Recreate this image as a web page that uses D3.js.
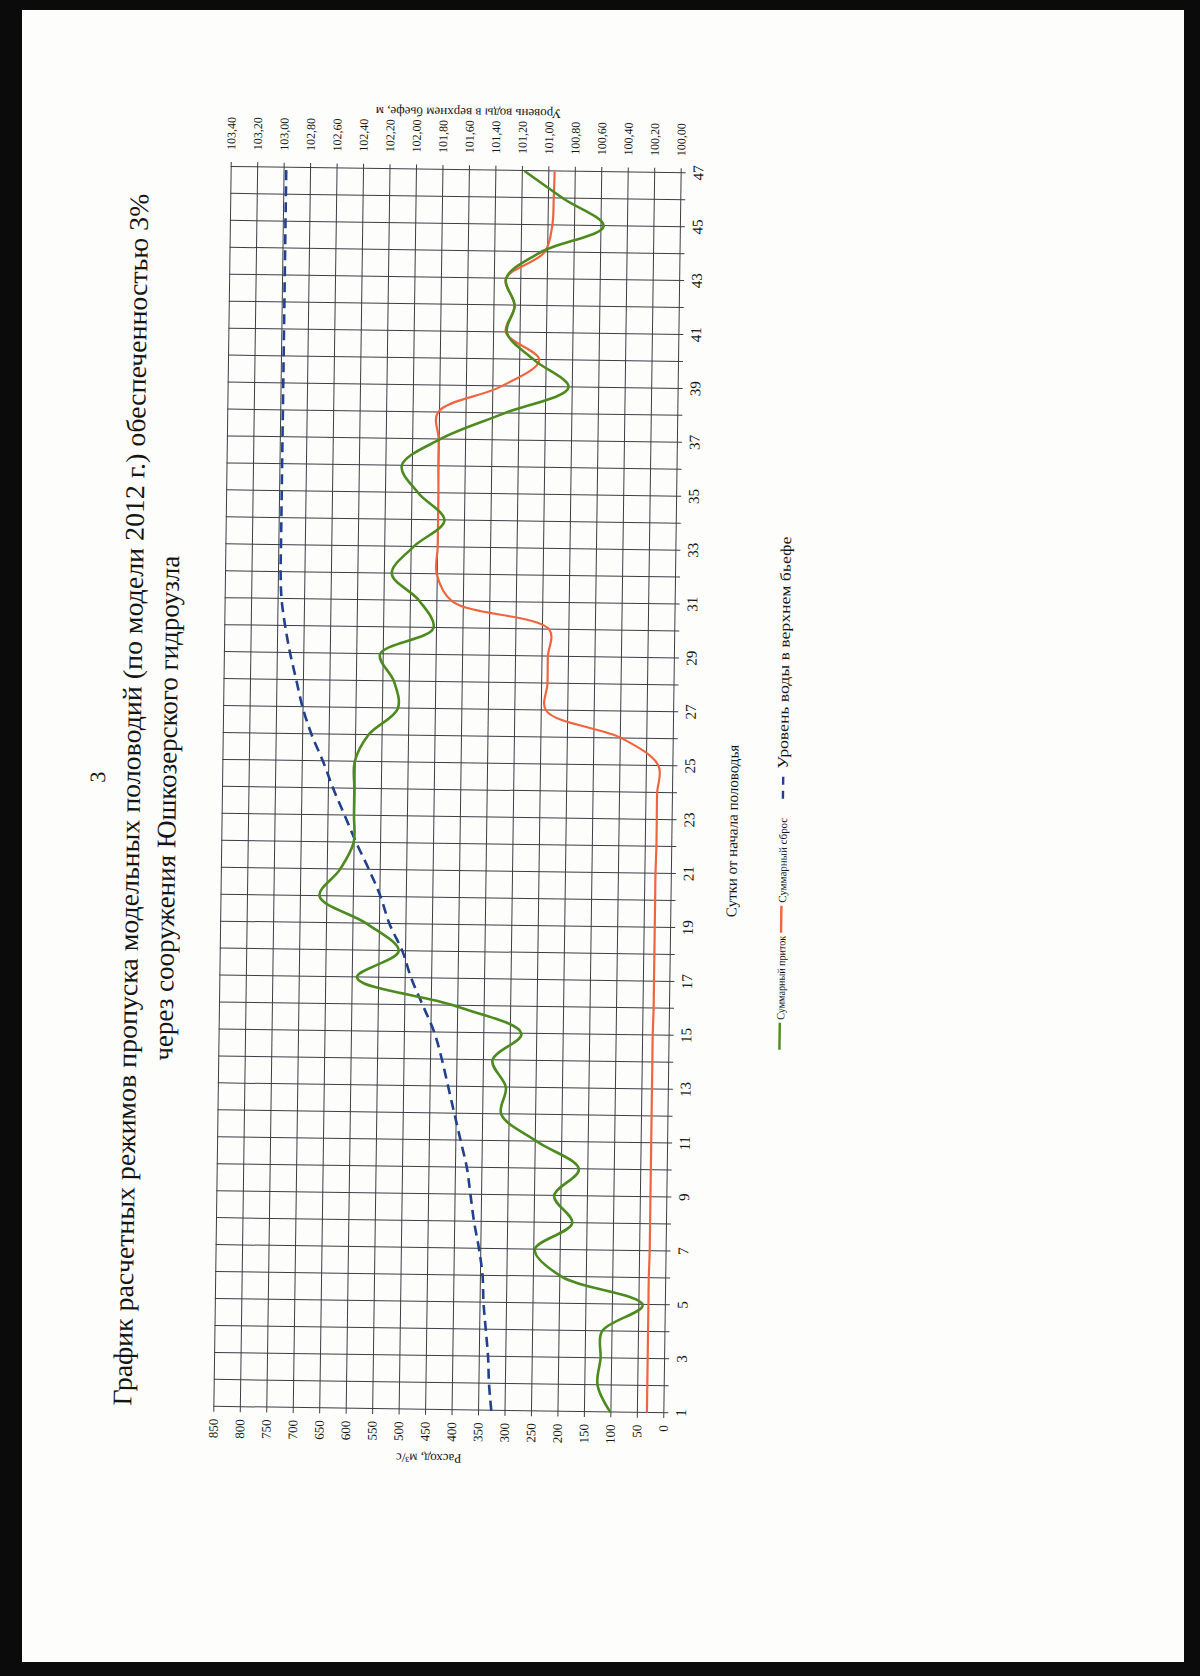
<!DOCTYPE html>
<html>
<head>
<meta charset="utf-8">
<script src="https://cdn.jsdelivr.net/npm/d3@7"></script>
<style>
  body { margin: 0; background: #fff; }
  text { font-family: "Liberation Serif", "Times New Roman", serif; fill: #151515; }
</style>
</head>
<body>
<svg id="page"></svg>
<script>
// сутки от начала половодья
var days = [1,2,3,4,5,6,7,8,9,10,11,12,13,14,15,16,17,18,19,20,21,22,23,24,
            25,26,27,28,29,30,31,32,33,34,35,36,37,38,39,40,41,42,43,44,45,46,47];
var dayTicks = [1,3,5,7,9,11,13,15,17,19,21,23,25,27,29,31,33,35,37,39,41,43,45,47];

// суммарный приток, м3/с
var inflow = [100,125,120,118,42,195,247,177,212,166,245,314,306,332,278,405,590,512,573,663,
              625,600,600,600,600,575,520,528,555,455,482,535,495,437,487,519,448,327,206,272,
              324,310,327,262,144,221,295];

// суммарный сброс, м3/с
var discharge = [31,31,31,31,31,31,30,30,30,30,30,30,30,30,30,29,29,29,29,29,
                 29,28,28,28,26,95,240,238,238,236,420,450,449,449,449,450,450,452,333,262,
                 326,310,327,255,241,239,238];

// уровень воды в верхнем бьефе, м
var level = [101.30,101.32,101.33,101.35,101.37,101.38,101.41,101.45,101.48,101.51,
             101.56,101.61,101.66,101.71,101.77,101.86,101.95,102.02,102.12,102.19,
             102.28,102.38,102.47,102.56,102.64,102.73,102.80,102.85,102.90,102.94,
             102.97,102.98,102.98,102.98,102.98,102.98,102.98,102.98,102.98,102.98,
             102.98,102.98,102.98,102.98,102.98,102.98,102.98];

var flowTicks = [0,50,100,150,200,250,300,350,400,450,500,550,600,650,700,750,800,850];
var levelTicks = [100.0,100.2,100.4,100.6,100.8,101.0,101.2,101.4,101.6,101.8,
                  102.0,102.2,102.4,102.6,102.8,103.0,103.2,103.4];

var W = 1240, H = 450;

var svg = d3.select("#page").attr("width", 1200).attr("height", 1676);
svg.append("rect").attr("width", 1200).attr("height", 1676).attr("fill", "#fdfdfb");

// лист отсканирован чуть наискось
var page = svg.append("g").attr("transform", "rotate(0.8,447,790)");
// график лежит на листе повернутым
var g = page.append("g").attr("transform", "translate(222,1410) rotate(-90)");

var x = d3.scaleLinear().domain([1, 47]).range([0, W]);
var y = d3.scaleLinear().domain([0, 850]).range([H, 0]);
var yR = d3.scaleLinear().domain([100, 103.4]).range([H, 0]);

var gridColor = "#3c3d45";

// сетка
g.append("g")
  .attr("transform", "translate(0," + H + ")")
  .call(d3.axisBottom(x).tickValues(days).tickSize(-H - 5).tickFormat(""))
  .call(function(a){ a.select(".domain").remove(); })
  .selectAll("line").attr("stroke", gridColor).attr("stroke-width", 1)
  .attr("transform", "translate(0,5)");

g.append("g")
  .call(d3.axisLeft(y).tickValues(flowTicks).tickSize(-W - 10).tickFormat(""))
  .call(function(a){ a.select(".domain").remove(); })
  .selectAll("line").attr("stroke", gridColor).attr("stroke-width", 1)
  .attr("transform", "translate(-5,0)");

// ось суток
var ax = g.append("g")
  .attr("transform", "translate(0," + H + ")")
  .call(d3.axisBottom(x).tickValues(dayTicks).tickSize(0).tickPadding(12));
ax.select(".domain").remove();
ax.selectAll("text").attr("font-size", 15).attr("font-family", "Liberation Serif").attr("fill", "#151515");

// левая ось — расход
var al = g.append("g")
  .call(d3.axisLeft(y).tickValues(flowTicks).tickSize(0).tickPadding(12));
al.select(".domain").remove();
al.selectAll("text").attr("font-size", 13).attr("font-family", "Liberation Serif").attr("fill", "#151515");

// правая ось — уровень
var ar = g.append("g")
  .attr("transform", "translate(" + W + ",0)")
  .call(d3.axisRight(yR).tickValues(levelTicks).tickSize(0).tickPadding(17)
        .tickFormat(function(d){ return d.toFixed(2).replace(".", ","); }));
ar.select(".domain").remove();
ar.selectAll("text").attr("font-size", 12).attr("font-family", "Liberation Serif").attr("fill", "#151515");

// линии
var lineFlow = function(vals){
  return d3.line().x(function(d, i){ return x(days[i]); })
    .y(function(d){ return y(d); }).curve(d3.curveCatmullRom.alpha(0.5))(vals);
};
var lineLevel = d3.line().x(function(d, i){ return x(days[i]); })
  .y(function(d){ return yR(d); }).curve(d3.curveCatmullRom.alpha(0.5));

g.append("path").attr("d", lineLevel(level))
  .attr("fill", "none").attr("stroke", "#23408e").attr("stroke-width", 2.6)
  .attr("stroke-dasharray", "10,6");

g.append("path").attr("d", lineFlow(discharge))
  .attr("fill", "none").attr("stroke", "#ef6540").attr("stroke-width", 2.2);

g.append("path").attr("d", lineFlow(inflow))
  .attr("fill", "none").attr("stroke", "#4d8a20").attr("stroke-width", 2.6);

// подписи осей
g.append("text").attr("transform", "translate(-44,216) rotate(-90)")
  .attr("text-anchor", "middle").attr("font-size", 13).text("Расход, м³/с");

g.append("text").attr("transform", "translate(" + (W + 62) + ",237) rotate(-90)")
  .attr("text-anchor", "middle").attr("font-size", 13).text("Уровень воды в верхнем бьефе, м");

g.append("text").attr("x", 583).attr("y", H + 66)
  .attr("text-anchor", "middle").attr("font-size", 15).text("Сутки от начала половодья");

// заголовок и номер страницы
g.append("text").attr("x", 606).attr("y", -82).attr("text-anchor", "middle")
  .attr("font-size", 27).attr("textLength", 1212).attr("lengthAdjust", "spacingAndGlyphs")
  .text("График расчетных режимов пропуска модельных половодий (по модели 2012 г.) обеспеченностью 3%");
g.append("text").attr("x", 598).attr("y", -46).attr("text-anchor", "middle")
  .attr("font-size", 27)
  .text("через сооружения Юшкозерского гидроузла");
g.append("text").attr("x", 628).attr("y", -117).attr("text-anchor", "middle")
  .attr("font-size", 22).text("3");

// легенда
var legend = [
  { name: "Суммарный приток", color: "#4d8a20", dash: null, x0: 365, len: 84, fs: 11 },
  { name: "Суммарный сброс", color: "#ef6540", dash: null, x0: 482, len: 85, fs: 11 },
  { name: "Уровень воды в верхнем бьефе", color: "#23408e", dash: "8,6", x0: 616, len: 232, fs: 15 }
];
var lg = g.append("g").attr("transform", "translate(0," + (H + 111) + ")");
legend.forEach(function(it){
  lg.append("line").attr("x1", it.x0).attr("x2", it.x0 + 27).attr("y1", 0).attr("y2", 0)
    .attr("stroke", it.color).attr("stroke-width", 2.4).attr("stroke-dasharray", it.dash);
  lg.append("text").attr("x", it.x0 + 30).attr("y", 4.5).attr("font-size", it.fs)
    .attr("textLength", it.len).attr("lengthAdjust", "spacingAndGlyphs").text(it.name);
});

// края скана
svg.append("rect").attr("x", 0).attr("y", 0).attr("width", 1200).attr("height", 10).attr("fill", "#0b0b0b");
svg.append("rect").attr("x", 1184).attr("y", 0).attr("width", 16).attr("height", 1676).attr("fill", "#0b0b0b");
svg.append("rect").attr("x", 0).attr("y", 1662).attr("width", 1200).attr("height", 14).attr("fill", "#0b0b0b");
svg.append("rect").attr("x", 0).attr("y", 0).attr("width", 22).attr("height", 1676).attr("fill", "#0b0b0b");
</script>
</body>
</html>
